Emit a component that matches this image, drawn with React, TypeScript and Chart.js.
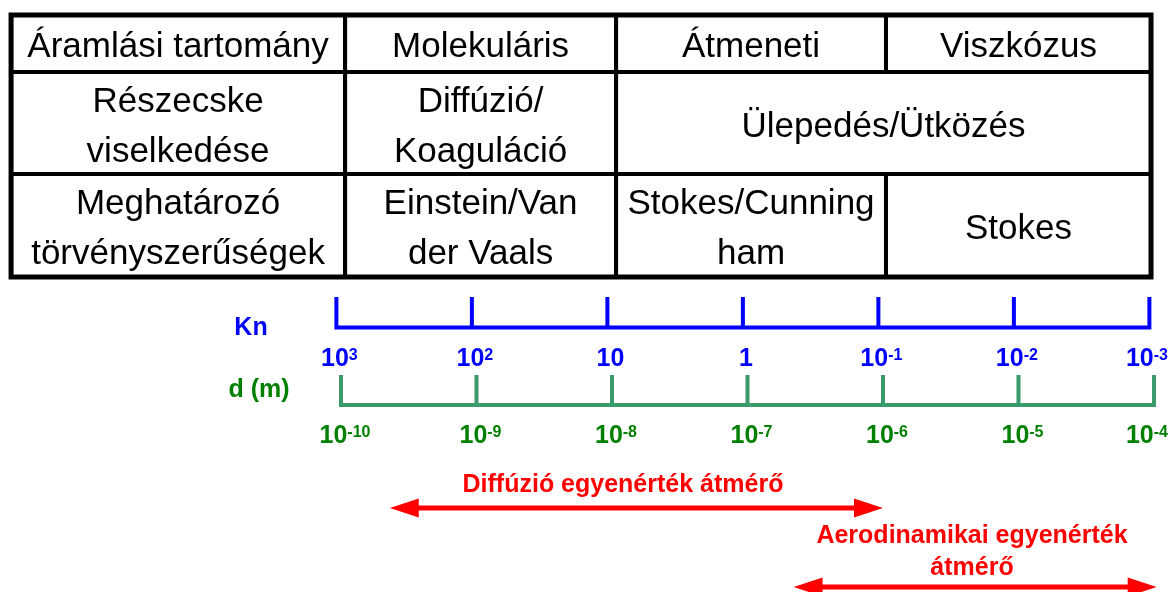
import React, { useEffect, useRef } from 'react';
import { Chart, registerables } from 'chart.js';

Chart.register(...registerables);

// ---------- data ----------
// Knudsen-number decades (top axis) and the matching particle-diameter decades (bottom axis)
const knExponents = [3, 2, 1, 0, -1, -2, -3];
const knTickBases = ['10', '10', '10', '1', '10', '10', '10'];
const knTickPowers = ['3', '2', '', '', '-1', '-2', '-3'];

const dExponents = [-10, -9, -8, -7, -6, -5, -4];
const dTickBases = ['10', '10', '10', '10', '10', '10', '10'];
const dTickPowers = ['-10', '-9', '-8', '-7', '-6', '-5', '-4'];

// table rows: text lines of each cell
const regimeRow = [['Áramlási tartomány'], ['Molekuláris'], ['Átmeneti'], ['Viszkózus']];
const behaviourRow = [['Részecske', 'viselkedése'], ['Diffúzió/', 'Koaguláció'], ['Ülepedés/Ütközés']];
const lawsRow = [['Meghatározó', 'törvényszerűségek'], ['Einstein/Van', 'der Vaals'], ['Stokes/Cunning', 'ham'], ['Stokes']];
// column spans of each cell (indices into the column edges)
const regimeSpans = [[0, 1], [1, 2], [2, 3], [3, 4]];
const behaviourSpans = [[0, 1], [1, 2], [2, 4]];
const lawsSpans = [[0, 1], [1, 2], [2, 3], [3, 4]];

// diameter ranges (log10 d, m) of the two equivalent diameters
const diffusionRange = [-9.64, -6.0];
const aerodynamicRange = [-6.66, -3.98];
const diffusionLabel = ['Diffúzió egyenérték átmérő'];
const aerodynamicLabel = ['Aerodinamikai egyenérték', 'átmérő'];

const knAxisTitle = 'Kn';
const dAxisTitle = 'd (m)';

// ---------- layout ----------
const W = 1171;
const H = 592;
const X_MIN = -12.5166;
const X_MAX = -3.8745;
const KN_SHIFT = -0.034; // Kn axis drawn a little left of the d axis
const knToX = (k: number) => -7 - k + KN_SHIFT;

const TABLE_COLS = [-12.435, -9.97, -7.97, -5.978, -4.022];
const TABLE_ROWS = [15, 72, 174, 277];

const KN_TOP = 297;
const KN_BASE = 327.5;
const D_TOP = 375;
const D_BASE = 405;
const KN_LABEL_BASE = 366;
const D_LABEL_BASE = 443;
const ARROW1_Y = 508;
const ARROW2_Y = 587;

const BLUE = '#0000ff';
const GREEN_TEXT = '#008000';
const GREEN_LINE = '#3a9a6a';
const RED = '#ff0000';
const FONT = '"Liberation Sans", Arial, sans-serif';

const diagramPlugin = {
  id: 'diagram',
  afterDatasetsDraw(chart: any) {
    const { ctx } = chart;
    const xs = chart.scales.x;
    const ys = chart.scales.y;
    const px = (v: number) => xs.getPixelForValue(v);
    const py = (v: number) => ys.getPixelForValue(v);

    ctx.save();

    // ---- table ----
    const rows = [regimeRow, behaviourRow, lawsRow];
    const spans = [regimeSpans, behaviourSpans, lawsSpans];
    ctx.strokeStyle = '#000';
    ctx.lineWidth = 4;
    ctx.fillStyle = '#000';
    ctx.font = `35px ${FONT}`;
    ctx.textAlign = 'center';
    ctx.textBaseline = 'alphabetic';
    rows.forEach((row, ri) => {
      const top = py(TABLE_ROWS[ri]);
      const bottom = py(TABLE_ROWS[ri + 1]);
      row.forEach((lines, ci) => {
        const [c0, c1] = spans[ri][ci];
        const left = px(TABLE_COLS[c0]);
        const right = px(TABLE_COLS[c1]);
        ctx.strokeRect(left, top, right - left, bottom - top);
        const cx = (left + right) / 2;
        const cy = (top + bottom) / 2;
        lines.forEach((t, li) => {
          const base = cy + (li - (lines.length - 1) / 2) * 50 + 13.5;
          ctx.fillText(t, cx, base);
        });
      });
    });
    ctx.lineWidth = 5;
    ctx.strokeRect(
      px(TABLE_COLS[0]),
      py(TABLE_ROWS[0]),
      px(TABLE_COLS[TABLE_COLS.length - 1]) - px(TABLE_COLS[0]),
      py(TABLE_ROWS[TABLE_ROWS.length - 1]) - py(TABLE_ROWS[0])
    );

    // ---- tick labels with superscripts ----
    const drawPower = (base: string, pow: string, cx: number, baseline: number, color: string) => {
      ctx.fillStyle = color;
      ctx.textAlign = 'left';
      ctx.font = `bold 25px ${FONT}`;
      const wb = ctx.measureText(base).width;
      ctx.font = `bold 16px ${FONT}`;
      const wp = pow ? ctx.measureText(pow).width : 0;
      const total = wb + wp;
      let left = cx - total / 2;
      if (left + total > W - 3) left = W - 3 - total;
      ctx.font = `bold 25px ${FONT}`;
      ctx.fillText(base, left, baseline);
      if (pow) {
        ctx.font = `bold 16px ${FONT}`;
        ctx.fillText(pow, left + wb, baseline - 6);
      }
    };
    knExponents.forEach((k, i) => {
      drawPower(knTickBases[i], knTickPowers[i], px(knToX(k)) + 3, py(KN_LABEL_BASE), BLUE);
    });
    dExponents.forEach((d, i) => {
      drawPower(dTickBases[i], dTickPowers[i], px(d) + 4, py(D_LABEL_BASE), GREEN_TEXT);
    });

    // axis titles
    ctx.textAlign = 'center';
    ctx.font = `bold 25px ${FONT}`;
    ctx.fillStyle = BLUE;
    ctx.fillText(knAxisTitle, px(-10.664), py(335));
    ctx.fillStyle = GREEN_TEXT;
    ctx.fillText(dAxisTitle, px(-10.605), py(397));

    // ---- arrow heads ----
    const head = (tipX: number, yv: number, dir: number) => {
      const len = 29;
      const half = 9.5;
      ctx.beginPath();
      ctx.moveTo(tipX, yv);
      ctx.lineTo(tipX + dir * len, yv - half);
      ctx.lineTo(tipX + dir * len, yv + half);
      ctx.closePath();
      ctx.fill();
    };
    ctx.fillStyle = RED;
    head(px(diffusionRange[0]), py(ARROW1_Y), 1);
    head(px(diffusionRange[1]), py(ARROW1_Y), -1);
    head(px(aerodynamicRange[0]), py(ARROW2_Y), 1);
    head(px(aerodynamicRange[1]), py(ARROW2_Y), -1);

    // arrow labels
    ctx.textAlign = 'center';
    ctx.font = `bold 25px ${FONT}`;
    ctx.fillText(diffusionLabel[0], px(-7.919), py(492));
    ctx.fillText(aerodynamicLabel[0], px(-5.343), py(543));
    ctx.fillText(aerodynamicLabel[1], px(-5.343), py(575));

    ctx.restore();
  },
};

const gapTicks = (xsVals: number[], top: number, base: number) => {
  const pts: any[] = [];
  xsVals.forEach((xv) => {
    pts.push({ x: xv, y: top });
    pts.push({ x: xv, y: base });
    pts.push({ x: xv, y: null });
  });
  return pts;
};

export default function App() {
  const ref = useRef<HTMLCanvasElement | null>(null);

  useEffect(() => {
    if (!ref.current) return;
    const knFirst = knToX(knExponents[0]);
    const knLast = knToX(knExponents[knExponents.length - 1]);
    const dFirst = dExponents[0];
    const dLast = dExponents[dExponents.length - 1];
    const common = {
      pointRadius: 0,
      fill: false,
      tension: 0,
      clip: false as any,
      spanGaps: false,
      borderJoinStyle: 'miter' as any,
      borderCapStyle: 'butt' as any,
    };
    const chart = new Chart(ref.current, {
      type: 'line',
      data: {
        datasets: [
          {
            ...common,
            label: 'Kn axis',
            data: [
              { x: knFirst, y: KN_TOP },
              { x: knFirst, y: KN_BASE },
              { x: knLast, y: KN_BASE },
              { x: knLast, y: KN_TOP },
            ],
            borderColor: BLUE,
            borderWidth: 4,
          },
          {
            ...common,
            label: 'Kn ticks',
            data: gapTicks(knExponents.slice(1, -1).map(knToX), KN_TOP, KN_BASE),
            borderColor: BLUE,
            borderWidth: 4,
          },
          {
            ...common,
            label: 'd axis',
            data: [
              { x: dFirst, y: D_TOP },
              { x: dFirst, y: D_BASE },
              { x: dLast, y: D_BASE },
              { x: dLast, y: D_TOP },
            ],
            borderColor: GREEN_LINE,
            borderWidth: 4,
          },
          {
            ...common,
            label: 'd ticks',
            data: gapTicks(dExponents.slice(1, -1), D_TOP, D_BASE),
            borderColor: GREEN_LINE,
            borderWidth: 4,
          },
          {
            ...common,
            label: 'Diffúzió egyenérték átmérő',
            data: [
              { x: diffusionRange[0] + 0.1, y: ARROW1_Y },
              { x: diffusionRange[1] - 0.1, y: ARROW1_Y },
            ],
            borderColor: RED,
            borderWidth: 5,
          },
          {
            ...common,
            label: 'Aerodinamikai egyenérték átmérő',
            data: [
              { x: aerodynamicRange[0] + 0.1, y: ARROW2_Y },
              { x: aerodynamicRange[1] - 0.1, y: ARROW2_Y },
            ],
            borderColor: RED,
            borderWidth: 5,
          },
        ] as any,
      },
      options: {
        responsive: false,
        animation: false,
        devicePixelRatio: 1,
        events: [],
        layout: { padding: 0 },
        plugins: {
          legend: { display: false },
          tooltip: { enabled: false },
          title: { display: false },
        },
        scales: {
          x: { type: 'linear', display: false, min: X_MIN, max: X_MAX },
          y: { type: 'linear', display: false, min: 0, max: H, reverse: true },
        },
      },
      plugins: [diagramPlugin],
    });
    return () => chart.destroy();
  }, []);

  return (
    <div style={{ position: 'absolute', left: 0, top: 0, width: W, height: H, background: '#fff' }}>
      <canvas ref={ref} width={W} height={H} style={{ display: 'block', width: W, height: H }} />
    </div>
  );
}
